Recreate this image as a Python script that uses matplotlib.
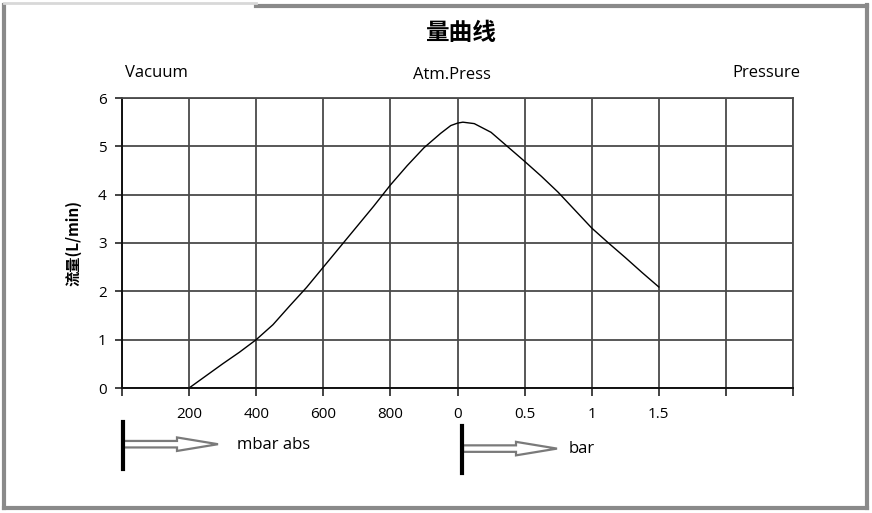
import matplotlib
matplotlib.use("Agg")
import matplotlib.pyplot as plt
import matplotlib.patches as mpatches
from matplotlib.transforms import IdentityTransform
from matplotlib.lines import Line2D

plt.rcParams['font.family'] = ['Noto Sans CJK SC', 'DejaVu Sans']

# ---- data ----
tick_positions = [0, 1, 2, 3, 4, 5, 6, 7, 8, 9, 10]
tick_labels = ['', '200', '400', '600', '800', '0', '0.5', '1', '1.5', '', '']
curve_x = [1.0, 1.25, 1.5, 1.75, 2.0, 2.25, 2.5, 2.75, 3.0, 3.25, 3.5, 3.75, 4.0, 4.25, 4.5,
           4.75, 4.9, 5.0, 5.08, 5.25, 5.5, 5.75, 6.0, 6.25, 6.5, 6.75, 7.0, 7.25, 7.5, 7.75, 8.0]
curve_y = [0.0, 0.25, 0.5, 0.74, 1.0, 1.31, 1.70, 2.08, 2.50, 2.92, 3.34, 3.76, 4.20, 4.60, 4.97,
           5.27, 5.43, 5.48, 5.50, 5.47, 5.29, 4.99, 4.69, 4.38, 4.05, 3.68, 3.31, 3.00, 2.70, 2.39, 2.09]
y_ticks = [0, 1, 2, 3, 4, 5, 6]

W, H = 872, 513
fig = plt.figure(figsize=(W / 100, H / 100), dpi=100)
fig.patch.set_facecolor('white')

ax = fig.add_axes([122 / W, 1 - 388 / H, (793 - 122) / W, (388 - 98) / H])
ax.set_xlim(0, 10)
ax.set_ylim(0, 6)
ax.set_xticks(tick_positions)
ax.set_xticklabels(tick_labels, fontsize=11, family=['Open Sans', 'DejaVu Sans'])
ax.set_yticks(y_ticks)
ax.set_yticklabels([str(v) for v in y_ticks], fontsize=11, family=['Open Sans', 'DejaVu Sans'])
ax.tick_params(axis='x', direction='out', length=6, width=1.2, color='#222222', pad=8)
ax.tick_params(axis='y', direction='out', length=5, width=1.2, color='#222222', pad=6)
ax.grid(True, color='#4a4a4a', linewidth=1.3)
ax.set_axisbelow(True)
for side in ['top', 'right']:
    ax.spines[side].set_color('#4a4a4a')
    ax.spines[side].set_linewidth(1.3)
for side in ['left', 'bottom']:
    ax.spines[side].set_color('#111111')
    ax.spines[side].set_linewidth(1.4)

ax.plot(curve_x, curve_y, color='black', linewidth=1.0)

ax.set_ylabel('流量(L/min)', fontsize=11, fontweight='bold', labelpad=12)

# ---- texts ----
fig.text(461 / W, 1 - 33 / H, '量曲线', fontsize=17, fontweight='bold', ha='center', va='center')
fig.text(156 / W, 1 - 73 / H, 'Vacuum', fontsize=12, ha='center', va='center', family=['Open Sans', 'DejaVu Sans'])
fig.text(452 / W, 1 - 75 / H, 'Atm.Press', fontsize=12, ha='center', va='center', family=['Open Sans', 'DejaVu Sans'])
fig.text(766 / W, 1 - 73 / H, 'Pressure', fontsize=12, ha='center', va='center', family=['Open Sans', 'DejaVu Sans'])
fig.text(237 / W, 1 - 445 / H, 'mbar abs', fontsize=12, ha='left', va='center', family=['Open Sans', 'DejaVu Sans'])
fig.text(569 / W, 1 - 449 / H, 'bar', fontsize=12, ha='left', va='center', family=['Open Sans', 'DejaVu Sans'])

# ---- arrows (pixel coordinates) ----
tr = IdentityTransform()
def arrow(xbar, ytop, ybot, ymid, xtip, shaft_end):
    fig.add_artist(Line2D([xbar, xbar], [H - ytop, H - ybot], color='black', linewidth=3.0, transform=tr))
    length = xtip - xbar
    fig.add_artist(mpatches.FancyArrow(xbar + 1, H - ymid, length - 1, 0, width=6.5, head_width=13.5,
                                       head_length=xtip - shaft_end, length_includes_head=True,
                                       facecolor='white', edgecolor='#7a7a7a', linewidth=1.6, transform=tr))
arrow(122.5, 422, 469, 444.2, 218, 177)
arrow(462, 426, 473, 448.6, 557, 516)

# ---- frame ----
fc = '#8a8a8a'
fig.add_artist(Line2D([3.5, 3.5], [H - 5, H - 508], color=fc, linewidth=3, transform=tr))
fig.add_artist(Line2D([3.5, 867], [H - 508, H - 508], color=fc, linewidth=3, transform=tr))
fig.add_artist(Line2D([867, 867], [H - 5, H - 508], color=fc, linewidth=3, transform=tr))
fig.add_artist(Line2D([256, 867], [H - 5.5, H - 5.5], color=fc, linewidth=3, transform=tr))
fig.add_artist(Line2D([3.5, 256], [H - 3, H - 3], color='#d8d8d8', linewidth=2, transform=tr))

fig.savefig('out.png', dpi=100)
